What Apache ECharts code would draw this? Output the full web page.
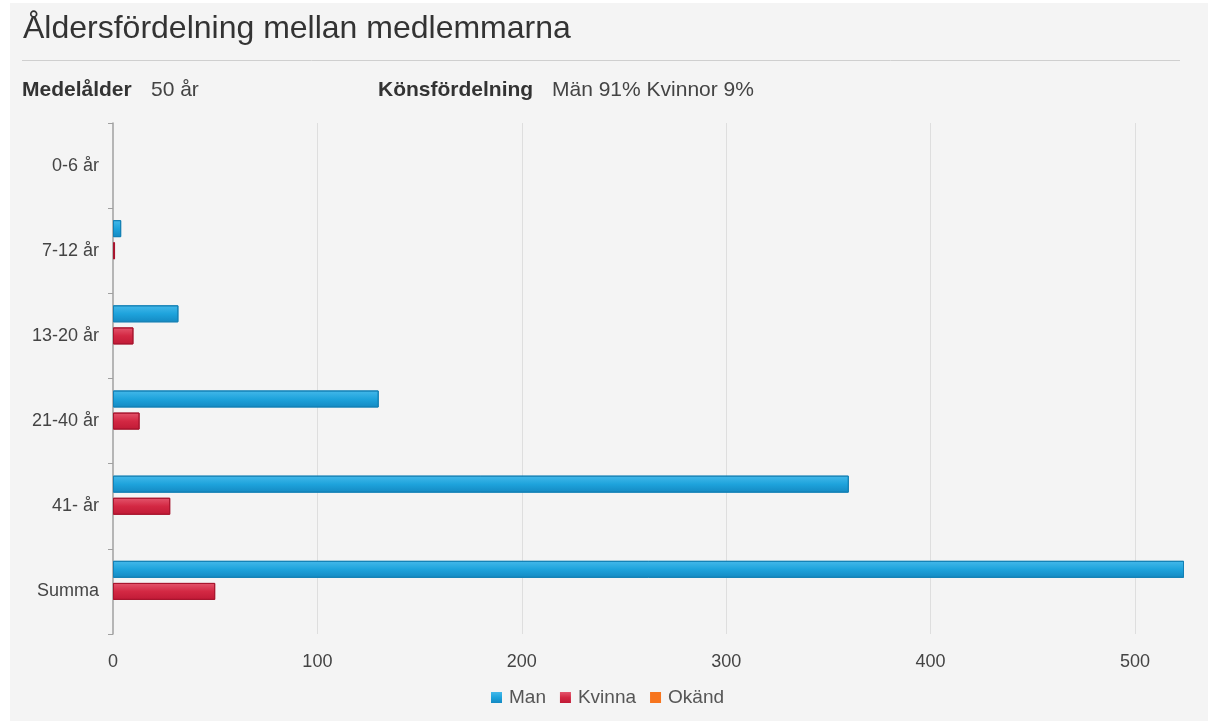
<!DOCTYPE html>
<html>
<head>
<meta charset="utf-8">
<script src="https://cdn.jsdelivr.net/npm/echarts@6/dist/echarts.min.js"></script>
<style>
html,body{margin:0;padding:0;background:#ffffff;}
#wrap{position:absolute;left:10px;top:3px;width:1198px;height:718px;background:#f4f4f4;}
#chart{position:absolute;left:0;top:0;width:1215px;height:725px;}
</style>
</head>
<body>
<div id="wrap"></div>
<div id="chart"></div>
<script>
const titleText = "Åldersfördelning mellan medlemmarna";
const categories = ["0-6 år", "7-12 år", "13-20 år", "21-40 år", "41- år", "Summa"];
const seriesNames = ["Man", "Kvinna", "Okänd"];
const manValues = [0, 4, 32, 130, 360, 524];
const kvinnaValues = [0, 1, 10, 13, 28, 50];
const okandValues = [0, 0, 0, 0, 0, 0];
const xTickInterval = 100;

const FONT = "'Liberation Sans', Arial, sans-serif";
const chart = echarts.init(document.getElementById('chart'), null, {renderer: 'canvas'});

function grad(top, mid, bottom) {
  return new echarts.graphic.LinearGradient(0, 0, 0, 1, [
    {offset: 0, color: top}, {offset: 0.5, color: mid}, {offset: 1, color: bottom}
  ]);
}
function items(values) {
  return values.map(v => v === 0 ? {value: v, itemStyle: {borderWidth: 0, opacity: 0}} : v);
}

const option = {
  backgroundColor: 'transparent',
  textStyle: {fontFamily: FONT},
  title: {
    text: titleText,
    left: 18, top: 8,
    textStyle: {fontSize: 32, fontWeight: 'normal', color: '#333', fontFamily: FONT}
  },
  graphic: [
    {type: 'line', shape: {x1: 22, y1: 60.5, x2: 1180, y2: 60.5}, style: {stroke: '#cfcfcf', lineWidth: 1}},
    {type: 'text', left: 22, top: 80, style: {text: 'Medelålder', font: 'bold 21px ' + FONT, fill: '#333'}},
    {type: 'text', left: 151, top: 80, style: {text: '50 år', font: '21px ' + FONT, fill: '#444'}},
    {type: 'text', left: 378, top: 80, style: {text: 'Könsfördelning', font: 'bold 21px ' + FONT, fill: '#333'}},
    {type: 'text', left: 552, top: 80, style: {text: 'Män 91% Kvinnor 9%', font: '21px ' + FONT, fill: '#444'}}
  ],
  legend: {
    data: seriesNames,
    left: 'center', top: 683,
    icon: 'rect', itemWidth: 11, itemHeight: 11, itemGap: 14,
    itemStyle: {borderWidth: 0},
    textStyle: {fontSize: 19, color: '#555', fontFamily: FONT, padding: [0, 0, 0, 2]},
    selectedMode: false
  },
  grid: {left: 113, right: 31, top: 123, bottom: 91, containLabel: false},
  xAxis: {
    type: 'value',
    min: 0, max: 'dataMax', interval: xTickInterval,
    axisLine: {show: false},
    axisTick: {show: false},
    axisLabel: {fontSize: 18, color: '#444', margin: 19, showMaxLabel: false, fontFamily: FONT},
    splitLine: {show: true, showMinLine: false, showMaxLine: false, lineStyle: {color: '#dedede', width: 1}}
  },
  yAxis: {
    type: 'category',
    data: categories,
    inverse: true,
    axisLine: {show: true, lineStyle: {color: '#a0a0a0', width: 1.5}},
    axisTick: {show: true, length: 5, lineStyle: {color: '#a0a0a0'}},
    axisLabel: {fontSize: 18, color: '#444', margin: 14, fontFamily: FONT},
    splitLine: {show: false}
  },
  series: [
    {
      name: 'Man', type: 'bar', data: items(manValues),
      barWidth: 17, barGap: '30%',
      itemStyle: {color: grad('#45b9ea', '#1ea3dc', '#1489c2'), borderColor: '#1380b5', borderWidth: 1},
      emphasis: {disabled: true}
    },
    {
      name: 'Kvinna', type: 'bar', data: items(kvinnaValues),
      barWidth: 17, barGap: '30%',
      itemStyle: {color: grad('#e4566d', '#d32843', '#c01a36'), borderColor: '#a8152e', borderWidth: 1},
      emphasis: {disabled: true}
    },
    {
      name: 'Okänd', type: 'bar', data: items(okandValues),
      barWidth: 17, barGap: '30%',
      itemStyle: {color: '#f7751e'},
      emphasis: {disabled: true}
    }
  ]
};
chart.setOption(option);
</script>
</body>
</html>
